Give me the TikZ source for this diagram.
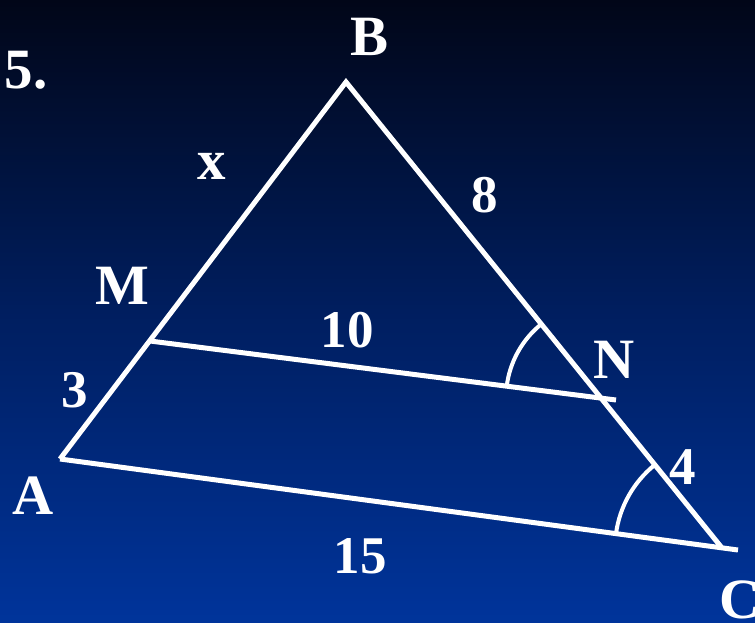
\documentclass[tikz,border=0pt]{standalone}
\usepackage{fontspec}
\setmainfont{Liberation Serif}
\usetikzlibrary{calc}
\definecolor{bgtop}{RGB}{1,6,24}
\definecolor{bgmid}{RGB}{0,30,95}
\definecolor{bgbot}{RGB}{0,52,155}
\begin{document}
\begin{tikzpicture}[x=1pt,y=-1pt,
  seg/.style={draw=white,line width=5pt,line cap=butt,line join=miter},
  lbl/.style={text=white,font=\bfseries\fontsize{57}{57}\selectfont,inner sep=0pt},
  num/.style={text=white,font=\bfseries\fontsize{53}{53}\selectfont,inner sep=0pt}]
\shade[top color=bgtop,bottom color=bgbot,middle color=bgmid] (0,0) rectangle (755,622);
\useasboundingbox (0,0) rectangle (755,622);
\coordinate (B) at (346,82);
\coordinate (A) at (60,459);
\coordinate (C) at (722,548);
\coordinate (M) at (150,341);
\coordinate (N) at (601,398);
\coordinate (Ne) at (616,400);
\coordinate (Ce) at (738,550);
\draw[seg] (A) -- (B) -- (C);
\draw[seg] (M) -- (Ne);
\draw[seg] (A) -- (Ce);
\draw[draw=white,line width=4pt] ($(N)!95pt!(M)$) arc[start angle=172.8,end angle=128.9,radius=95pt];
\draw[draw=white,line width=4pt] ($(C)!107pt!(A)$) arc[start angle=172.3,end angle=128.9,radius=107pt];
\node[lbl] (t5) at (26,70) {5.};
\node[lbl] (tB) at (370,37) {B};
\node[lbl] (tx) at (212,166) {x};
\node[num] (t8) at (485,195) {8};
\node[lbl] (tM) at (122,286) {M};
\node[num] (t10) at (347,330) {10};
\node[lbl] (tN) at (614,360) {N};
\node[num] (t3) at (75,390) {3};
\node[lbl] (tA) at (33,496) {A};
\node[num] (t4) at (683,467) {4};
\node[num] (t15) at (360,556) {15};
\node[lbl] (tC) at (740,600) {C};
\end{tikzpicture}
\end{document}
